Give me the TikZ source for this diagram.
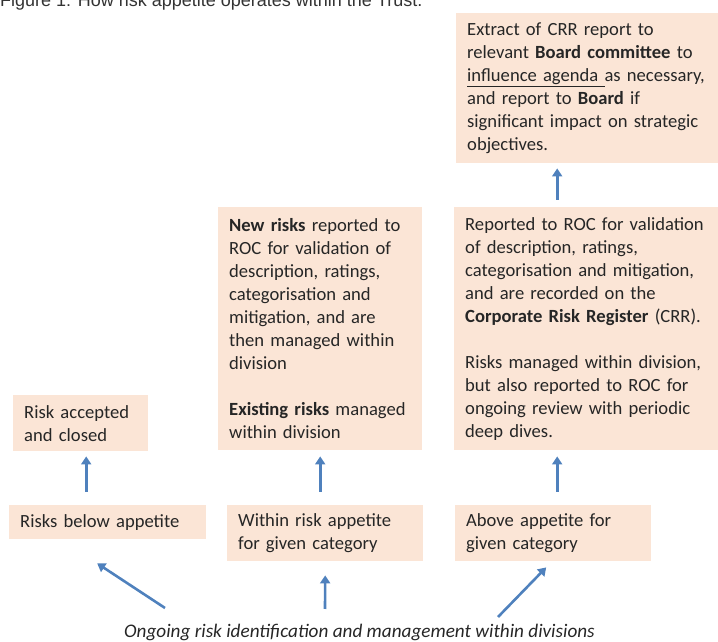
\documentclass[tikz,border=0pt]{standalone}
\usepackage{fontspec}
\setmainfont{Carlito}
\newfontfamily\captionfont{Liberation Sans}
\usetikzlibrary{arrows.meta,calc}
\definecolor{Peach}{HTML}{FBE5D6}
\definecolor{ArrowBlue}{HTML}{4F81BD}
\tikzset{
  risk box/.style={fill=Peach,anchor=north west,align=left,inner xsep=11pt,inner ysep=0pt,
    font=\fontsize{18.6}{23}\selectfont,text=black!85},
  risk arrow/.style={-{Triangle[length=8pt,width=10pt]},draw=ArrowBlue,line width=2.6pt}
}

\begin{document}
\begin{tikzpicture}[x=1pt,y=1pt]
  \useasboundingbox (0,0) rectangle (718,642);
  \clip (0,0) rectangle (718,642);
  % caption, cut at the top
  \node[anchor=base west,inner sep=0pt,text=black!80,
    font=\captionfont\fontsize{18}{20}\selectfont] (caption) at (0,635)
    {Figure 1: How risk appetite operates within the Trust.};
  % boxes
  \node[risk box,minimum width=262pt,minimum height=150pt,text width=240pt] (extract) at (456,629)
    {Extract of CRR report to\\relevant \textbf{Board committee} to\\\underline{influence agenda\ }as necessary,\\and report to \textbf{Board} if\\significant impact on strategic\\objectives.};
  \node[risk box,minimum width=204pt,minimum height=243pt,text width=182pt] (newroc) at (218,435)
    {\textbf{New risks} reported to\\ROC for validation of\\description, ratings,\\categorisation and\\mitigation, and are\\then managed within\\division\\[23pt]\textbf{Existing risks} managed\\within division};
  \node[risk box,minimum width=264pt,minimum height=243pt,text width=242pt] (crr) at (454,435)
    {Reported to ROC for validation\\of description, ratings,\\categorisation and mitigation,\\and are recorded on the\\\textbf{Corporate Risk Register} (CRR).\\[23pt]Risks managed within division,\\but also reported to ROC for\\ongoing review with periodic\\deep dives.};
  \node[risk box,minimum width=135pt,minimum height=56pt,text width=113pt] (accepted) at (13,247)
    {Risk accepted\\and closed};
  \node[risk box,minimum width=197pt,minimum height=34pt,text width=175pt] (below) at (9,137)
    {Risks below appetite};
  \node[risk box,minimum width=196pt,minimum height=56pt,text width=174pt] (within) at (227,137)
    {Within risk appetite\\for given category};
  \node[risk box,minimum width=196pt,minimum height=56pt,text width=174pt] (above) at (455,137)
    {Above appetite for\\given category};
  \node[anchor=base,inner sep=0pt,text=black!85,font=\fontsize{19.2}{23}\selectfont\itshape] (ongoing) at (359.5,4.5)
    {Ongoing risk identification and management within divisions};
  % arrows
  \coordinate (tail left) at (165,34);
  \coordinate (tail mid) at (325,33);
  \coordinate (tail right) at (498,25);
  \draw[risk arrow] (tail left) -- ([xshift=-10.5pt,yshift=-24pt]below.south);
  \draw[risk arrow] (tail mid) -- ([yshift=-14pt]within.south);
  \draw[risk arrow] (tail right) -- ([xshift=-7pt,yshift=-6pt]above.south);
  \draw[risk arrow] ([xshift=-21.5pt,yshift=13pt]below.north) -- ([xshift=5.5pt,yshift=-5pt]accepted.south);
  \draw[risk arrow] ([xshift=-5pt,yshift=13pt]within.north) -- ([yshift=-6pt]newroc.south);
  \draw[risk arrow] ([xshift=4pt,yshift=13pt]above.north) -- ([xshift=-29pt,yshift=-6pt]crr.south);
  \draw[risk arrow] ([xshift=-29pt,yshift=7pt]crr.north) -- ([xshift=-30pt,yshift=-5pt]extract.south);
\end{tikzpicture}
\end{document}
